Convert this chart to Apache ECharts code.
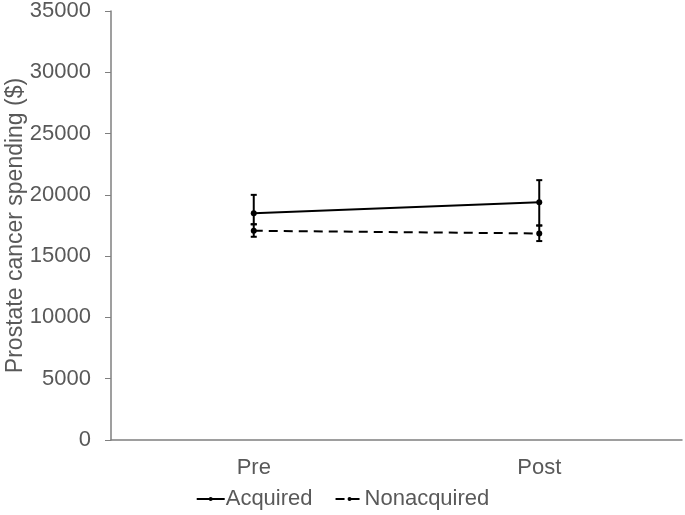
<!DOCTYPE html>
<html><head><meta charset="utf-8">
<script src="https://cdn.jsdelivr.net/npm/echarts@6/dist/echarts.min.js"></script>
<style>html,body{margin:0;padding:0;background:#fff}#c{width:685px;height:515px}</style>
</head><body><div id="c"></div>
<script>
var categories = ['Pre', 'Post'];
var acquired = [18500, 19400];
var acquiredLow = [17600, 17500];
var acquiredHigh = [20000, 21200];
var nonacquired = [17070, 16850];
var nonacquiredLow = [16580, 16230];
var nonacquiredHigh = [17600, 17500];
var yTicks = [0, 5000, 10000, 15000, 20000, 25000, 30000, 35000];

var font = 'Liberation Sans, Arial, sans-serif';
function errData(lo, hi) {
  return categories.map(function (c, i) { return [i, lo[i], hi[i]]; });
}
function errRender(params, api) {
  var x = api.value(0);
  var lo = api.coord([x, api.value(1)]);
  var hi = api.coord([x, api.value(2)]);
  var w = 3;
  var st = { stroke: '#000', lineWidth: 2 };
  return { type: 'group', children: [
    { type: 'line', shape: { x1: lo[0], y1: lo[1], x2: hi[0], y2: hi[1] }, style: st },
    { type: 'line', shape: { x1: lo[0] - w, y1: lo[1], x2: lo[0] + w, y2: lo[1] }, style: st },
    { type: 'line', shape: { x1: hi[0] - w, y1: hi[1], x2: hi[0] + w, y2: hi[1] }, style: st }
  ]};
}
var chart = echarts.init(document.getElementById('c'));
chart.setOption({
  animation: false,
  textStyle: { fontFamily: font },
  grid: { left: 111, right: 3, top: 11, bottom: 75, outerBoundsMode: 'none', containLabel: false },
  legend: {
    bottom: 0, left: 'center', itemWidth: 28, itemHeight: 5, itemGap: 22,
    textStyle: { fontSize: 22, color: '#595959', fontFamily: font, padding: [0, 0, 0, -4] },
    data: ['Acquired', 'Nonacquired']
  },
  xAxis: {
    type: 'category', data: categories,
    axisLine: { lineStyle: { color: '#7f7f7f', width: 1.5 } },
    axisTick: { show: false },
    axisLabel: { fontSize: 22, color: '#595959', margin: 17 }
  },
  yAxis: {
    type: 'value', min: yTicks[0], max: yTicks[yTicks.length - 1], interval: 5000,
    name: 'Prostate cancer spending ($)', nameLocation: 'middle', nameGap: 84,
    nameMoveOverlap: false,
    nameTextStyle: { fontSize: 23, color: '#595959' },
    axisLine: { show: true, lineStyle: { color: '#7f7f7f', width: 1.5 } },
    axisTick: { show: true, length: 6, lineStyle: { color: '#7f7f7f' } },
    axisLabel: { fontSize: 22, color: '#595959', margin: 20, formatter: function (v) { return String(v); } },
    splitLine: { show: false }
  },
  series: [
    { name: 'Acquired', type: 'line', data: acquired, symbol: 'circle', symbolSize: 6,
      itemStyle: { color: '#000' }, lineStyle: { color: '#000', width: 2 }, z: 3 },
    { name: 'Nonacquired', type: 'line', data: nonacquired, symbol: 'circle', symbolSize: 6,
      itemStyle: { color: '#000' }, lineStyle: { color: '#000', width: 2, type: [9, 6] }, z: 3 },
    { type: 'custom', renderItem: errRender, data: errData(acquiredLow, acquiredHigh), z: 2 },
    { type: 'custom', renderItem: errRender, data: errData(nonacquiredLow, nonacquiredHigh), z: 2 }
  ]
});
</script></body></html>
